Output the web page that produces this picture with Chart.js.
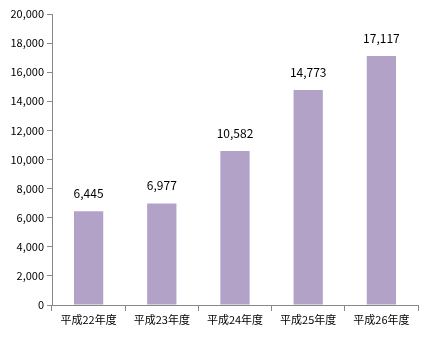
<!DOCTYPE html>
<html>
<head>
<meta charset="utf-8">
<script src="https://cdn.jsdelivr.net/npm/chart.js@4/dist/chart.umd.min.js"></script>
<style>
  html, body { margin: 0; padding: 0; background: #fff; }
  #wrap { width: 433px; height: 341px; }
</style>
</head>
<body>
<div id="wrap"><canvas id="myChart" width="433" height="341"></canvas></div>
<script>
'use strict';

// データ
const categories = ['平成22年度', '平成23年度', '平成24年度', '平成25年度', '平成26年度'];
const values = [6445, 6977, 10582, 14773, 17117];
const yMax = 20000;
const yStep = 2000;

const FONT = "'Noto Sans CJK JP', 'DejaVu Sans', sans-serif";

// 棒の上に数値を表示
const valueLabels = {
    id: 'valueLabels',
    afterDatasetsDraw(chart) {
        const ctx = chart.ctx;
        const meta = chart.getDatasetMeta(0);
        ctx.save();
        ctx.font = '12px ' + FONT;
        ctx.fillStyle = '#000';
        ctx.textAlign = 'center';
        ctx.textBaseline = 'alphabetic';
        meta.data.forEach((bar, i) => {
            ctx.fillText(values[i].toLocaleString('en-US'), bar.x, bar.y - 13);
        });
        ctx.restore();
    }
};

const config = {
    type: 'bar',
    data: {
        labels: categories,
        datasets: [{
            data: values,
            backgroundColor: '#B3A2C7',
            categoryPercentage: 0.4,
            barPercentage: 1.0
        }]
    },
    options: {
        responsive: false,
        animation: false,
        layout: { padding: { top: 14, right: 15, left: 0, bottom: 0 } },
        plugins: {
            legend: { display: false },
            tooltip: { enabled: false }
        },
        scales: {
            x: {
                offset: true,
                grid: {
                    offset: true,
                    drawOnChartArea: false,
                    tickLength: 6,
                    color: '#888'
                },
                border: { color: '#888' },
                ticks: {
                    color: '#000',
                    font: { family: FONT, size: 11 },
                    maxRotation: 0,
                    padding: 2
                },
                afterFit: scale => { scale.height = 36; }
            },
            y: {
                min: 0,
                max: yMax,
                grid: {
                    drawOnChartArea: false,
                    tickLength: 5,
                    color: '#888'
                },
                border: { color: '#888' },
                ticks: {
                    stepSize: yStep,
                    color: '#000',
                    font: { family: FONT, size: 11 },
                    padding: 3,
                    callback: v => v.toLocaleString('en-US')
                },
                afterFit: scale => { scale.width = 52; }
            }
        }
    },
    plugins: [valueLabels]
};

const myChart = new Chart(document.getElementById('myChart'), config);
</script>
</body>
</html>
